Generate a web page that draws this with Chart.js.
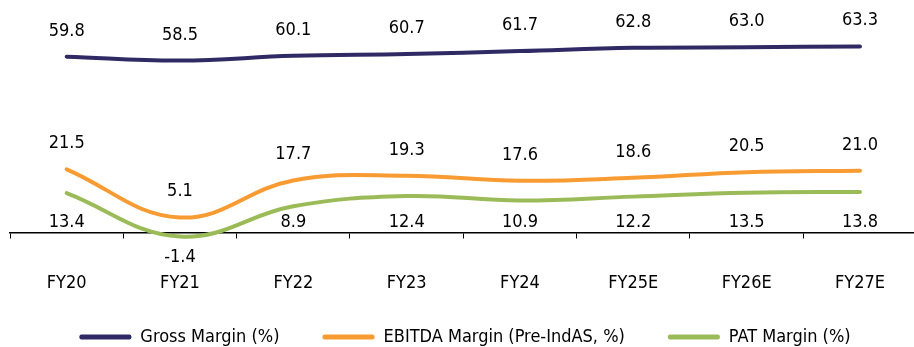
<!DOCTYPE html>
<html>
<head>
<meta charset="utf-8">
<script src="https://cdn.jsdelivr.net/npm/chart.js@4/dist/chart.umd.min.js"></script>
<style>
  html, body { margin: 0; padding: 0; background: #fff; overflow: hidden; }
  #wrap { width: 920px; height: 356px; }
</style>
</head>
<body>
<div id="wrap"><canvas id="c" width="920" height="356"></canvas></div>
<script>
const categories = ['FY20', 'FY21', 'FY22', 'FY23', 'FY24', 'FY25E', 'FY26E', 'FY27E'];
const grossMargin = [59.8, 58.5, 60.1, 60.7, 61.7, 62.8, 63.0, 63.3];
const ebitdaMargin = [21.5, 5.1, 17.7, 19.3, 17.6, 18.6, 20.5, 21.0];
const patMargin = [13.4, -1.4, 8.9, 12.4, 10.9, 12.2, 13.5, 13.8];
const seriesNames = ['Gross Margin (%)', 'EBITDA Margin (Pre-IndAS, %)', 'PAT Margin (%)'];

const FONT_FAMILY = '"DejaVu Sans", sans-serif';
const FONT_STRETCH = 'condensed';
const COLORS = ['#2F2A64', '#F99B33', '#9BBB59'];
// label placement per series: 'above' the point, or 'base' (just above the axis)
const LABEL_MODE = ['above', 'above', 'base'];

const valueLabels = {
  id: 'valueLabels',
  afterDatasetsDraw(chart) {
    const ctx = chart.ctx;
    const zeroY = chart.scales.y.getPixelForValue(0);
    ctx.save();
    ctx.font = FONT_STRETCH + ' 18px ' + FONT_FAMILY;
    ctx.fillStyle = '#000';
    ctx.textAlign = 'center';
    ctx.textBaseline = 'alphabetic';
    chart.data.datasets.forEach((ds, di) => {
      const meta = chart.getDatasetMeta(di);
      meta.data.forEach((pt, i) => {
        const v = ds.data[i];
        let y;
        if (LABEL_MODE[di] === 'base') {
          y = v >= 0 ? zeroY - 5 : pt.y + 25;
        } else {
          y = pt.y - 21;
        }
        ctx.fillText(v.toFixed(1), pt.x, y);
      });
    });
    ctx.restore();
  }
};

const seriesData = [grossMargin, ebitdaMargin, patMargin];

new Chart(document.getElementById('c'), {
  type: 'line',
  data: {
    labels: categories,
    datasets: seriesData.map((d, i) => ({
      label: seriesNames[i],
      data: d,
      borderColor: COLORS[i],
      backgroundColor: COLORS[i],
      borderWidth: 4,
      borderCapStyle: 'round',
      pointRadius: 0,
      pointHoverRadius: 0,
      tension: 0.4,
      fill: false
    }))
  },
  options: {
    responsive: false,
    animation: false,
    events: [],
    layout: { padding: { left: 10, right: 0, top: 10, bottom: 0 } },
    scales: {
      x: {
        position: { y: 0 },
        offset: true,
        grid: {
          offset: true,
          drawOnChartArea: false,
          drawTicks: true,
          tickLength: 5,
          color: '#000',
          lineWidth: 1
        },
        border: { display: true, color: '#000', width: 1.5 },
        ticks: {
          padding: 35,
          color: '#000',
          font: { family: FONT_FAMILY, size: 18, weight: FONT_STRETCH },
          maxRotation: 0,
          autoSkip: false
        }
      },
      y: {
        display: false,
        min: -17.86,
        max: 75.68,
        bounds: 'data'
      }
    },
    plugins: {
      legend: {
        position: 'bottom',
        labels: {
          boxWidth: 52,
          boxHeight: 5,
          padding: 43,
          color: '#000',
          font: { family: FONT_FAMILY, size: 18, weight: FONT_STRETCH },
          useBorderRadius: true,
          borderRadius: 2,
          generateLabels(chart) {
            const items = Chart.defaults.plugins.legend.labels.generateLabels(chart);
            items.forEach(it => { it.lineWidth = 0; it.fillStyle = it.strokeStyle; });
            return items;
          }
        }
      },
      tooltip: { enabled: false },
      title: { display: false }
    }
  },
  plugins: [valueLabels]
});
</script>
</body>
</html>
